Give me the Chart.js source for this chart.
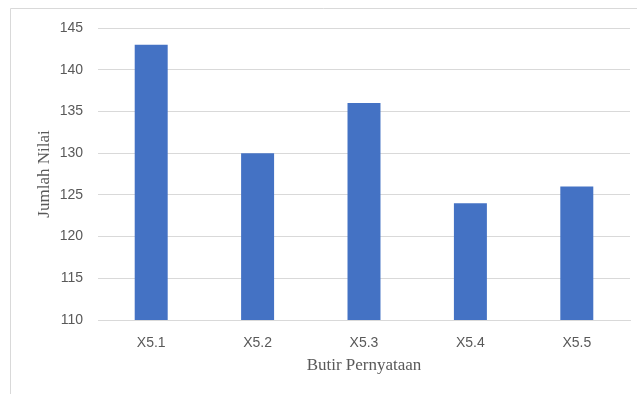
<!DOCTYPE html>
<html>
<head>
<meta charset="utf-8">
<script src="https://cdn.jsdelivr.net/npm/chart.js@4"></script>
<style>
  html, body { margin: 0; padding: 0; background: #ffffff; }
  canvas { display: block; }
</style>
</head>
<body>
<canvas id="chart" width="637" height="394"></canvas>
<script>
// Total score per statement item
const categories = ['X5.1', 'X5.2', 'X5.3', 'X5.4', 'X5.5'];
const totals = [143, 130, 136, 124, 126];
const yTicks = { min: 110, max: 145, step: 5 };

const tickColor = '#595959';
const gridColor = '#D9D9D9';
const barColor = '#4472C4';

// Thin frame along the top and left edges of the figure
const framePlugin = {
  id: 'frame',
  beforeDraw(chart) {
    const ctx = chart.ctx;
    ctx.save();
    ctx.strokeStyle = '#D9D9D9';
    ctx.lineWidth = 1;
    ctx.beginPath();
    ctx.moveTo(10.5, chart.height);
    ctx.lineTo(10.5, 8.5);
    ctx.lineTo(chart.width, 8.5);
    ctx.stroke();
    ctx.restore();
  }
};

new Chart(document.getElementById('chart'), {
  type: 'bar',
  data: {
    labels: categories,
    datasets: [{
      data: totals,
      backgroundColor: barColor,
      borderWidth: 0,
      categoryPercentage: 1,
      barPercentage: 0.31
    }]
  },
  options: {
    responsive: false,
    animation: false,
    layout: { padding: { top: 28, right: 7, bottom: 18, left: 12 } },
    plugins: {
      legend: { display: false },
      tooltip: { enabled: false }
    },
    scales: {
      x: {
        grid: { display: false, drawTicks: false },
        border: { display: true, color: gridColor, width: 1 },
        ticks: {
          color: tickColor,
          font: { family: 'Liberation Sans', size: 14 },
          padding: 15
        },
        title: {
          display: true,
          text: 'Butir Pernyataan',
          color: tickColor,
          font: { family: 'Liberation Serif', size: 17 },
          padding: { top: 0, bottom: 0 }
        },
        afterFit(scale) { scale.height = 56; }
      },
      y: {
        min: yTicks.min,
        max: yTicks.max,
        grid: { color: gridColor, drawTicks: false, lineWidth: 1 },
        border: { display: false },
        ticks: {
          stepSize: yTicks.step,
          color: tickColor,
          font: { family: 'Liberation Sans', size: 14 },
          padding: 15
        },
        title: {
          display: true,
          text: 'Jumlah Nilai',
          color: tickColor,
          font: { family: 'Liberation Serif', size: 17 },
          padding: { top: 22, bottom: 0 }
        },
        afterFit(scale) { scale.width = 86; }
      }
    }
  },
  plugins: [framePlugin]
});
</script>
</body>
</html>
